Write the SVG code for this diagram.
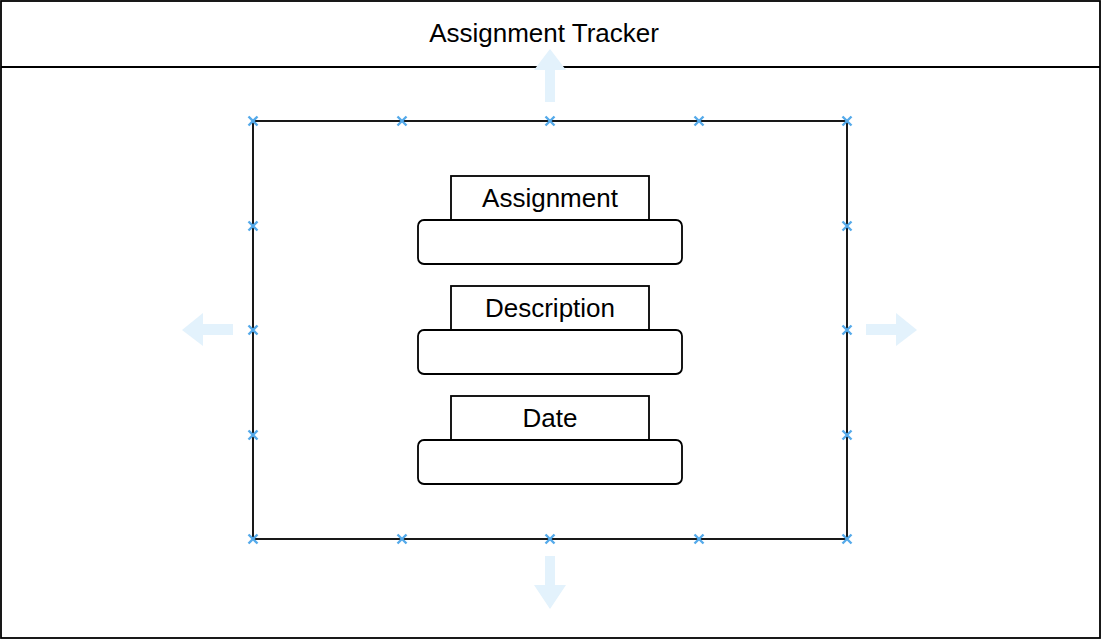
<svg xmlns="http://www.w3.org/2000/svg" width="1102" height="640" viewBox="0 0 1102 640">
<style>
.ln{fill:none;stroke:#000;stroke-width:1.8}
.bx{fill:#fff;stroke:#000;stroke-width:1.8}
.t{font-family:"Liberation Sans",Arial,sans-serif;font-size:26px;fill:#000;text-anchor:middle}
.ar{fill:#e3f2fc}
.cx{stroke:#55aaea;stroke-width:2.4;fill:none}
</style>
<defs>
<path id="x" d="M-4.5,-4.5L4.5,4.5M4.5,-4.5L-4.5,4.5" class="cx"/>
</defs>
<rect width="1102" height="640" fill="#fff"/>
<g id="frame">
<rect x="1" y="1" width="1099" height="637" class="ln"/>
<line x1="1" y1="67" x2="1100" y2="67" class="ln"/>
<text x="544" y="42" class="t">Assignment Tracker</text>
</g>
<g id="arrows">
<path class="ar" d="M550,49L566,70L555,70L555,102L545,102L545,70L534,70Z"/>
<path class="ar" d="M550,609L566,585L555,585L555,556L545,556L545,585L534,585Z"/>
<path class="ar" d="M182,330L203,313L203,324L233,324L233,335L203,335L203,346Z"/>
<path class="ar" d="M917,330L896,313L896,324L866,324L866,335L896,335L896,346Z"/>
</g>
<g id="container">
<rect x="253" y="121" width="594" height="418" class="ln"/>
</g>
<g id="handles">
<use href="#x" x="253" y="121"/><use href="#x" x="402" y="121"/><use href="#x" x="550" y="121"/><use href="#x" x="699" y="121"/><use href="#x" x="847" y="121"/>
<use href="#x" x="253" y="539"/><use href="#x" x="402" y="539"/><use href="#x" x="550" y="539"/><use href="#x" x="699" y="539"/><use href="#x" x="847" y="539"/>
<use href="#x" x="253" y="226"/><use href="#x" x="253" y="330"/><use href="#x" x="253" y="435"/>
<use href="#x" x="847" y="226"/><use href="#x" x="847" y="330"/><use href="#x" x="847" y="435"/>
</g>
<g id="assignment">
<rect x="451" y="176" width="198" height="44" class="bx"/>
<text x="550" y="207" class="t">Assignment</text>
<rect x="418" y="220" width="264" height="44" rx="6" class="bx"/>
</g>
<g id="description">
<rect x="451" y="286" width="198" height="44" class="bx"/>
<text x="550" y="317" class="t">Description</text>
<rect x="418" y="330" width="264" height="44" rx="6" class="bx"/>
</g>
<g id="date">
<rect x="451" y="396" width="198" height="44" class="bx"/>
<text x="550" y="427" class="t">Date</text>
<rect x="418" y="440" width="264" height="44" rx="6" class="bx"/>
</g>
</svg>
